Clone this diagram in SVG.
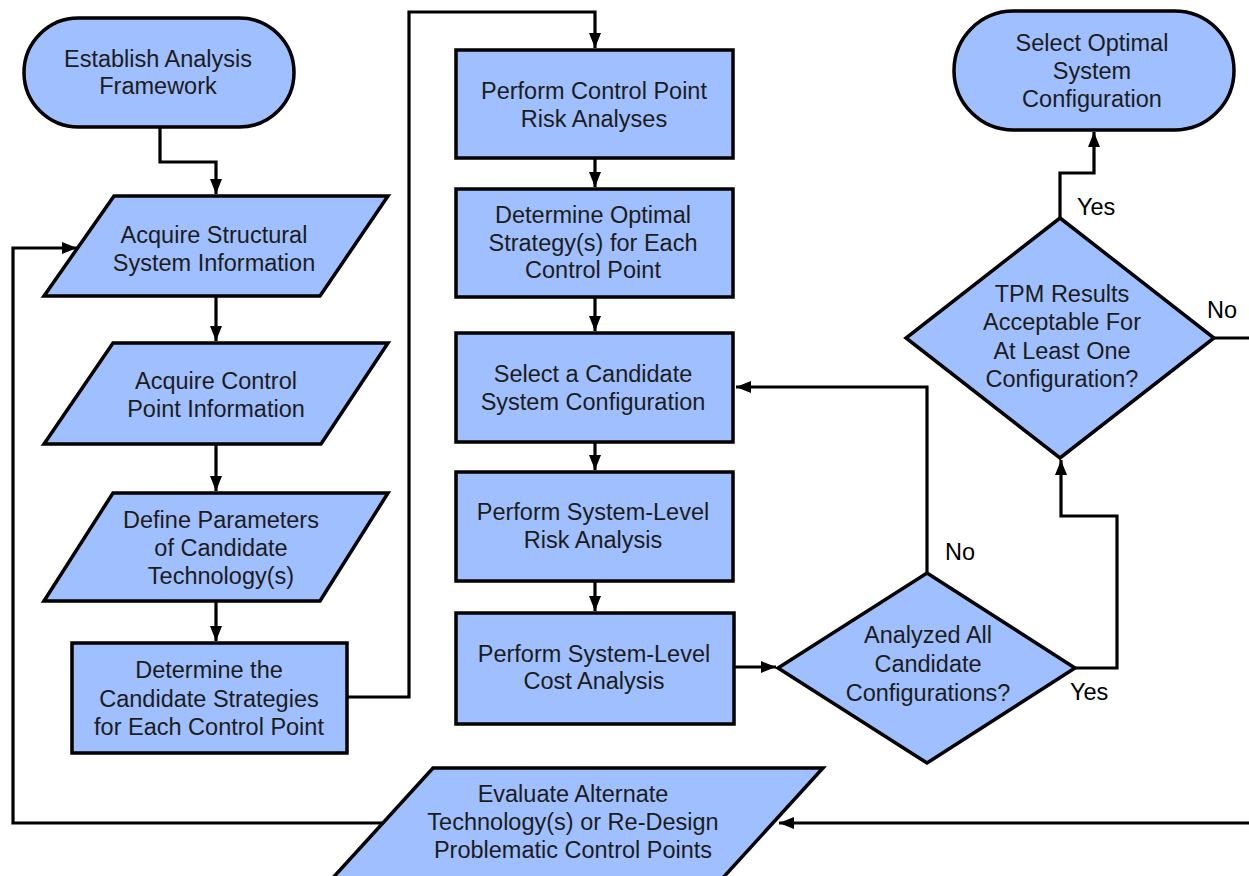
<svg xmlns="http://www.w3.org/2000/svg" width="1249" height="876" viewBox="0 0 1249 876">
<style>
.n{fill:#9fbfff;stroke:#000;stroke-width:3.5;stroke-linejoin:miter}
.t{font-family:"Liberation Sans",Arial,sans-serif;font-size:23.5px;fill:#1c1c1c;text-anchor:middle}
.l{font-family:"Liberation Sans",Arial,sans-serif;font-size:23.5px;fill:#000}
.c{fill:none;stroke:#000;stroke-width:3.2;marker-end:url(#ah)}
.c2{fill:none;stroke:#000;stroke-width:3.2}
</style>
<defs>
<marker id="ah" markerUnits="userSpaceOnUse" markerWidth="16" markerHeight="12" refX="15" refY="6" orient="auto">
<path d="M0,0 L15,6 L0,12 z" fill="#000"/>
</marker>
</defs>
<rect width="1249" height="876" fill="#fff"/>
<g id="connectors">
<path class="c" d="M160,127 V162 H216 V194"/>
<path class="c" d="M216,296 V341"/>
<path class="c" d="M216,444 V491"/>
<path class="c" d="M216,601 V641"/>
<path class="c" d="M347,697 H409 V12 H595 V48"/>
<path class="c" d="M595,158 V187"/>
<path class="c" d="M595,297 V331"/>
<path class="c" d="M595,442 V470"/>
<path class="c" d="M595,581 V611"/>
<path class="c" d="M734,667 H776"/>
<path class="c" d="M927,573 V387 H736"/>
<path class="c" d="M1075,668 H1117 V516 H1061 V460"/>
<path class="c" d="M1060,218 V173 H1094 V132"/>
<path class="c2" d="M1214,338 H1260"/>
<path class="c" d="M1260,823 H779"/>
<path class="c" d="M385,823 H13 V248 H77"/>
</g>
<g id="establish">
<rect class="n" x="24" y="18" width="270" height="109" rx="54.5" ry="54.5"/>
<text class="t" x="158" y="67">Establish Analysis</text>
<text class="t" x="158" y="94">Framework</text>
</g>
<g id="acquire-structural">
<polygon class="n" points="114,196 388,196 320,296 44,296"/>
<text class="t" x="214" y="243">Acquire Structural</text>
<text class="t" x="214" y="271">System Information</text>
</g>
<g id="acquire-control">
<polygon class="n" points="113,343 388,343 321,444 44,444"/>
<text class="t" x="216" y="389">Acquire Control</text>
<text class="t" x="216" y="417">Point Information</text>
</g>
<g id="define-parameters">
<polygon class="n" points="113,493 388,493 320,601 44,601"/>
<text class="t" x="221" y="528">Define Parameters</text>
<text class="t" x="221" y="556">of Candidate</text>
<text class="t" x="221" y="584">Technology(s)</text>
</g>
<g id="determine-candidate">
<rect class="n" x="72" y="643" width="275" height="110"/>
<text class="t" x="209" y="678">Determine the</text>
<text class="t" x="209" y="707">Candidate Strategies</text>
<text class="t" x="209" y="735">for Each Control Point</text>
</g>
<g id="perform-cp-risk">
<rect class="n" x="456" y="50" width="277" height="108"/>
<text class="t" x="594" y="99">Perform Control Point</text>
<text class="t" x="594" y="127">Risk Analyses</text>
</g>
<g id="determine-optimal">
<rect class="n" x="456" y="189" width="277" height="108"/>
<text class="t" x="593" y="223">Determine Optimal</text>
<text class="t" x="593" y="251">Strategy(s) for Each</text>
<text class="t" x="593" y="278">Control Point</text>
</g>
<g id="select-candidate">
<rect class="n" x="456" y="333" width="277" height="109"/>
<text class="t" x="593" y="382">Select a Candidate</text>
<text class="t" x="593" y="410">System Configuration</text>
</g>
<g id="system-risk">
<rect class="n" x="456" y="472" width="277" height="109"/>
<text class="t" x="593" y="520">Perform System-Level</text>
<text class="t" x="593" y="548">Risk Analysis</text>
</g>
<g id="system-cost">
<rect class="n" x="456" y="613" width="278" height="111"/>
<text class="t" x="594" y="662">Perform System-Level</text>
<text class="t" x="594" y="689">Cost Analysis</text>
</g>
<g id="analyzed-all">
<polygon class="n" points="927,573 1075,668 927,763 778,668"/>
<text class="t" x="928" y="643">Analyzed All</text>
<text class="t" x="928" y="672">Candidate</text>
<text class="t" x="928" y="701">Configurations?</text>
<text class="l" x="945" y="560">No</text>
<text class="l" x="1070" y="700">Yes</text>
</g>
<g id="tpm-results">
<polygon class="n" points="1060,218 1214,338 1060,458 906,338"/>
<text class="t" x="1062" y="302">TPM Results</text>
<text class="t" x="1062" y="330">Acceptable For</text>
<text class="t" x="1062" y="359">At Least One</text>
<text class="t" x="1062" y="387">Configuration?</text>
<text class="l" x="1077" y="215">Yes</text>
<text class="l" x="1207" y="318">No</text>
</g>
<g id="select-optimal">
<rect class="n" x="954" y="11" width="280" height="119" rx="59.5" ry="59.5"/>
<text class="t" x="1092" y="51">Select Optimal</text>
<text class="t" x="1092" y="79">System</text>
<text class="t" x="1092" y="107">Configuration</text>
</g>
<g id="evaluate-alternate">
<polygon class="n" points="433,768 823,768 720,881 330,881"/>
<text class="t" x="573" y="802">Evaluate Alternate</text>
<text class="t" x="573" y="830">Technology(s) or Re-Design</text>
<text class="t" x="573" y="858">Problematic Control Points</text>
</g>
</svg>
